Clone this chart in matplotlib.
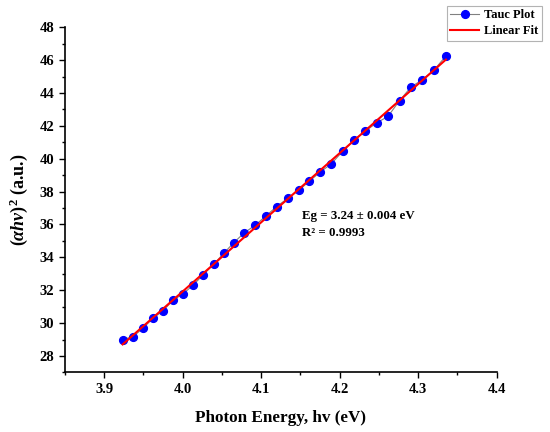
import numpy as np
import matplotlib
matplotlib.use("Agg")
import matplotlib.pyplot as plt

photon_energy = [3.9235, 3.937, 3.9494, 3.9625, 3.9752, 3.988, 4.0003, 4.0134, 4.0262, 4.0394,
                 4.0522, 4.0653, 4.0784, 4.0924, 4.1064, 4.1197, 4.1337, 4.1477, 4.1612, 4.1752,
                 4.1892, 4.2038, 4.2182, 4.2325, 4.2471, 4.2615, 4.2764, 4.2911, 4.3052, 4.3201, 4.3354]
tauc_values = [28.99, 29.18, 29.69, 30.30, 30.76, 31.40, 31.77, 32.31, 32.94, 33.57,
               34.24, 34.90, 35.49, 35.95, 36.53, 37.09, 37.58, 38.07, 38.62, 39.19,
               39.68, 40.45, 41.12, 41.67, 42.18, 42.57, 43.54, 44.37, 44.80, 45.39, 46.25]
annotation_lines = ["Eg = 3.24 ± 0.004 eV", "R² = 0.9993"]

plt.rcParams['font.family'] = ['Liberation Serif', 'DejaVu Serif']
plt.rcParams['font.weight'] = 'bold'
plt.rcParams['mathtext.fontset'] = 'custom'
plt.rcParams['mathtext.rm'] = 'Liberation Serif:bold'
plt.rcParams['mathtext.it'] = 'Liberation Serif:italic:bold'
plt.rcParams['mathtext.bf'] = 'Liberation Serif:bold'

fig = plt.figure(figsize=(5.5, 4.32), dpi=100)
ax = fig.add_axes([0.118, 0.138, 0.785, 0.799])

x = np.array(photon_energy)
y = np.array(tauc_values)
ax.plot(x, y, color='#808080', lw=0.8, marker='o', ms=5.6,
        mfc='#0000ff', mec='#0000ff', label='Tauc Plot', zorder=2)
slope, intercept = np.polyfit(x, y, 1)
ax.plot(x, slope * x + intercept, color='#ff0000', lw=1.5, label='Linear Fit', zorder=3)

ax.set_xlim(3.85, 4.4)
ax.set_ylim(27, 48)
ax.set_xticks(np.arange(3.9, 4.41, 0.1))
ax.set_xticks(np.arange(3.85, 4.41, 0.05), minor=True)
ax.set_yticks(np.arange(28, 48.1, 2))
ax.set_yticks(np.arange(27, 48.1, 1), minor=True)
ax.xaxis.set_major_formatter(matplotlib.ticker.FormatStrFormatter('%.1f'))

for s in ['top', 'right']:
    ax.spines[s].set_visible(False)
for s in ['left', 'bottom']:
    ax.spines[s].set_linewidth(1.2)
ax.tick_params(which='major', direction='out', length=4.2, width=1.0, labelsize=10.5)
ax.tick_params(which='minor', direction='out', length=2.4, width=1.0)
for lab in ax.get_xticklabels() + ax.get_yticklabels():
    lab.set_fontweight('bold')

ax.set_xlabel('Photon Energy, hv (eV)', fontsize=12.3, fontweight='bold', labelpad=10)
ax.set_ylabel(r'$(\alpha h\nu)^{2}$ (a.u.)', fontsize=13, fontweight='bold', labelpad=7)

ax.text(4.1515, 36.54, annotation_lines[0], fontsize=9.3, fontweight='bold', va='center', ha='left')
ax.text(4.1515, 35.5, annotation_lines[1], fontsize=9.3, fontweight='bold', va='center', ha='left')

leg = fig.legend(loc='upper right', bbox_to_anchor=(542 / 550, 1 - 5.5 / 432),
                 fontsize=9, frameon=True, fancybox=False, edgecolor='#a0a0a0',
                 handlelength=2.3, handletextpad=0.4, borderpad=0.3, labelspacing=0.3,
                 borderaxespad=0)
leg.get_frame().set_linewidth(0.8)
for t in leg.get_texts():
    t.set_fontweight('bold')

fig.savefig('out.png', dpi=100)
